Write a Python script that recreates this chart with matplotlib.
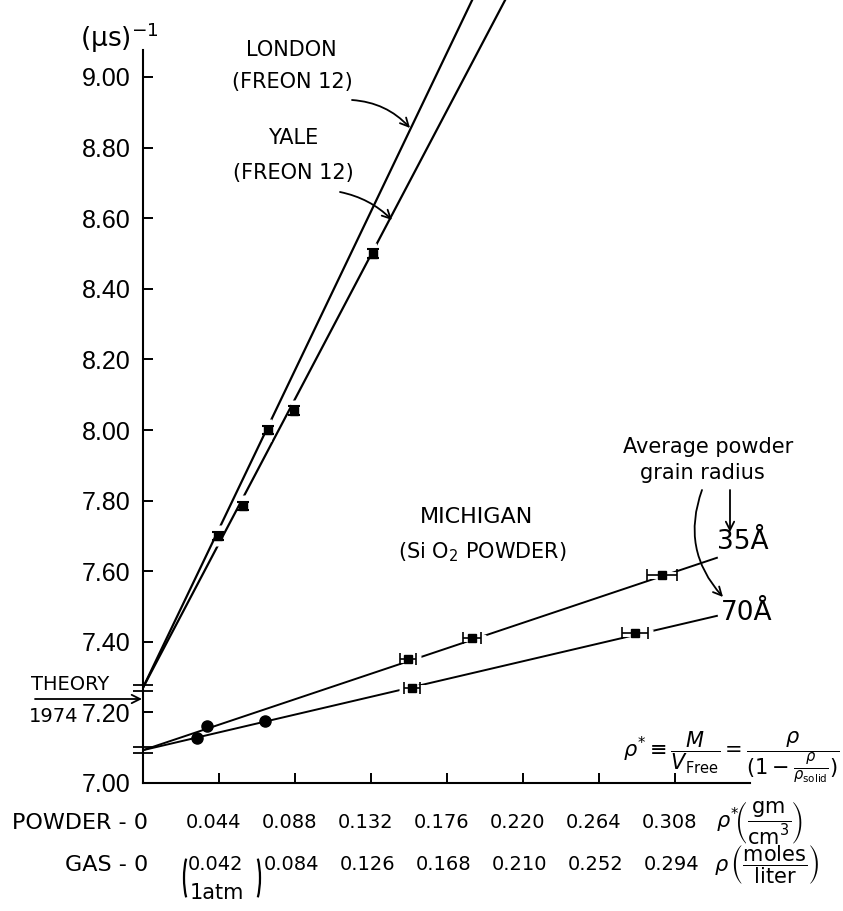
import matplotlib
matplotlib.use('Agg')
import matplotlib.pyplot as plt
import numpy as np
from matplotlib.path import Path
from matplotlib.patches import Arc
from matplotlib.transforms import blended_transform_factory

plt.rcParams['font.family'] = ['DejaVu Sans']
plt.rcParams['mathtext.fontset'] = 'dejavusans'

W, H = 843, 911

# decay rate axis, (us)^-1
rate_ticks = [7.00, 7.20, 7.40, 7.60, 7.80, 8.00, 8.20, 8.40, 8.60, 8.80, 9.00]
rate_labels = ['7.00', '7.20', '7.40', '7.60', '7.80', '8.00', '8.20', '8.40', '8.60', '8.80', '9.00']

# density axis: powder rho* (gm/cm3) and gas rho (moles/liter)
powder_ticks = [0.044, 0.088, 0.132, 0.176, 0.220, 0.264, 0.308]
powder_labels = ['0.044', '0.088', '0.132', '0.176', '0.220', '0.264', '0.308']
gas_labels = ['0.042', '0.084', '0.126', '0.168', '0.210', '0.252', '0.294']

# Freon 12 gas
london_rho = [0.0434, 0.0724]
london_rate = [7.70, 8.00]
yale_rho = [0.0579, 0.0874, 0.1332]
yale_rate = [7.785, 8.055, 8.50]
freon_err = 0.012

# Michigan SiO2 powder, 35 A and 70 A grains
mich35_rho = [0.1534, 0.1905, 0.3005]
mich35_rate = [7.35, 7.41, 7.59]
mich35_err = [0.0046, 0.0050, 0.0087]
mich70_rho = [0.1557, 0.2848]
mich70_rate = [7.27, 7.425]
mich70_err = [0.0046, 0.0077]
gas_dot_rho = [0.0313, 0.0371, 0.0706]
gas_dot_rate = [7.127, 7.162, 7.175]

# straight line fits (intercept at zero density, slope)
theory_freon = 7.27
theory_powder = 7.093
london_slope = 10.22
yale_slope = 9.29
mich35_slope = 1.64
mich70_slope = 1.145
freon_end = 0.22
mich_end = 0.3323


def put(x, y, s, **kw):
    # place text by pixel position, origin top-left
    return fig.text(x / W, 1 - y / H, s, **kw)


def arrow(x0, y0, x1, y1, rad=0.0):
    ax.annotate('', xy=(x1, H - y1), xycoords='figure pixels',
                xytext=(x0, H - y0), textcoords='figure pixels',
                arrowprops=dict(arrowstyle='->,head_length=0.6,head_width=0.3',
                                lw=1.3, color='black',
                                connectionstyle=f'arc3,rad={rad}',
                                shrinkA=0, shrinkB=0))


def paren(cx, cy, w, h, side):
    # tall bracket drawn as an elliptic arc, pixel units from top-left
    t1, t2 = (112, 248) if side == 'left' else (-68, 68)
    fig.add_artist(Arc((cx / 100, (H - cy) / 100), w / 100, h / 100,
                       theta1=t1, theta2=t2, lw=1.6, color='black',
                       transform=fig.dpi_scale_trans))


fig = plt.figure(figsize=(W / 100, H / 100), dpi=100)
ax = fig.add_axes([143 / W, 128 / H, 700 / W, 783 / H])
ax.set_xlim(0, 700 / 1727)
ax.set_ylim(7.0, 7.0 + 783 / 353)

for s in ['top', 'right']:
    ax.spines[s].set_visible(False)
ax.spines['left'].set_bounds(7.0, 9.076)
ax.spines['bottom'].set_bounds(0, 0.3513)
for s in ['left', 'bottom']:
    ax.spines[s].set_linewidth(1.5)

ax.set_yticks(rate_ticks, labels=rate_labels)
ax.set_xticks(powder_ticks)
ax.tick_params(direction='in', length=7, width=1.4, pad=9)
ax.tick_params(axis='x', labelbottom=False)
for t in ax.get_yticklabels():
    t.set_family('Liberation Sans')
    t.set_fontsize(18)

# fitted lines
xf = np.array([0, freon_end])
xm = np.array([0, mich_end])
ax.plot(xf, theory_freon + london_slope * xf, color='black', lw=1.6, zorder=2)
ax.plot(xf, theory_freon + yale_slope * xf, color='black', lw=1.6, zorder=2)
ax.plot(xm, theory_powder + mich35_slope * xm, color='black', lw=1.4, zorder=2)
ax.plot(xm, theory_powder + mich70_slope * xm, color='black', lw=1.4, zorder=2)

# white gaps in the lines around the points
ax.errorbar(london_rho + yale_rho, london_rate + yale_rate, yerr=0.03,
            fmt='none', ecolor='white', elinewidth=5, capsize=0, zorder=3)
ax.errorbar(mich35_rho + mich70_rho, mich35_rate + mich70_rate,
            xerr=np.array(mich35_err + mich70_err) + 0.003,
            fmt='none', ecolor='white', elinewidth=5, capsize=0, zorder=3)

# data points
ax.errorbar(london_rho + yale_rho, london_rate + yale_rate, yerr=freon_err,
            fmt='s', color='black', ms=6, capsize=4, capthick=1.5,
            elinewidth=1.5, zorder=4)
ax.errorbar(mich35_rho, mich35_rate, xerr=mich35_err, fmt='s', color='black',
            ms=6, capsize=4, capthick=1.2, elinewidth=1.2, zorder=4)
ax.errorbar(mich70_rho, mich70_rate, xerr=mich70_err, fmt='s', color='black',
            ms=6, capsize=4, capthick=1.2, elinewidth=1.2, zorder=4)
ax.plot(gas_dot_rho, gas_dot_rate, 'o', color='black', ms=8, zorder=4)

# break marks on the rate axis at the theory values
brk = Path([(-1, -0.3), (1, -0.3), (-1, 0.3), (1, 0.3)],
           [Path.MOVETO, Path.LINETO, Path.MOVETO, Path.LINETO])
ax.plot([0, 0], [theory_freon, theory_powder], ls='none', marker=brk,
        ms=15, mec='black', mew=1.3, clip_on=False, zorder=5)

# density tick labels, two rows
tr = blended_transform_factory(ax.transData, fig.transFigure)
for x, lab in zip(powder_ticks, powder_labels):
    ax.text(x - 0.003, 1 - 823 / H, lab, transform=tr, ha='center',
            va='center', fontsize=14)
for x, lab in zip(powder_ticks[1:], gas_labels[1:]):
    ax.text(x - 0.002, 1 - 865 / H, lab, transform=tr, ha='center',
            va='center', fontsize=14)
ax.text(powder_ticks[0] - 0.002, 1 - 865 / H, gas_labels[0], transform=tr,
        ha='center', va='center', fontsize=14)
ax.text(powder_ticks[0] - 0.001, 1 - 893 / H, '1atm', transform=tr,
        ha='center', va='center', fontsize=15)
paren(194, 878, 20, 62, 'left')
paren(250, 878, 20, 62, 'right')

put(148, 823, 'POWDER - 0', ha='right', va='center', fontsize=16)
put(148, 865, 'GAS - 0', ha='right', va='center', fontsize=16)
put(716, 823, r'$\rho^{*}\!\left(\dfrac{\mathsf{gm}}{\mathsf{cm}^{3}}\right)$',
    ha='left', va='center', fontsize=15)
put(714, 865, r'$\rho\,\left(\dfrac{\mathsf{moles}}{\mathsf{liter}}\right)$',
    ha='left', va='center', fontsize=15)

put(840, 757, r'$\rho^{*}\equiv\dfrac{M}{V_{\mathsf{Free}}}='
    r'\dfrac{\rho}{(1-\frac{\rho}{\rho_{\mathsf{solid}}})}$',
    ha='right', va='center', fontsize=15)

# axis unit
put(80, 47, r'(μs)$^{-1}$', ha='left', va='baseline', fontsize=19)

# labels and arrows
put(291, 50, 'LONDON', ha='center', va='center', fontsize=15)
put(292, 82, '(FREON 12)', ha='center', va='center', fontsize=15)
put(293, 138, 'YALE', ha='center', va='center', fontsize=15)
put(293, 173, '(FREON 12)', ha='center', va='center', fontsize=15)
arrow(352, 100, 410, 128, rad=-0.2)
arrow(340, 192, 392, 220, rad=-0.15)

put(477, 517, 'MICHIGAN', ha='center', va='center', fontsize=16)
put(482, 552, r'(Si O$_2$ POWDER)', ha='center', va='center', fontsize=15)

put(708, 447, 'Average powder', ha='center', va='center', fontsize=15)
put(702, 473, 'grain radius', ha='center', va='center', fontsize=15)
arrow(730, 490, 730, 532)
arrow(702, 490, 723, 597, rad=0.3)
put(743, 542, '35Å', ha='center', va='center', fontsize=19)
put(747, 613, '70Å', ha='center', va='center', fontsize=19)

put(70, 685, 'THEORY', ha='center', va='center', fontsize=14)
put(54, 717, '1974', ha='center', va='center', fontsize=14)
arrow(35, 699, 142, 699)

fig.savefig('out.png', dpi=100, facecolor='white')
